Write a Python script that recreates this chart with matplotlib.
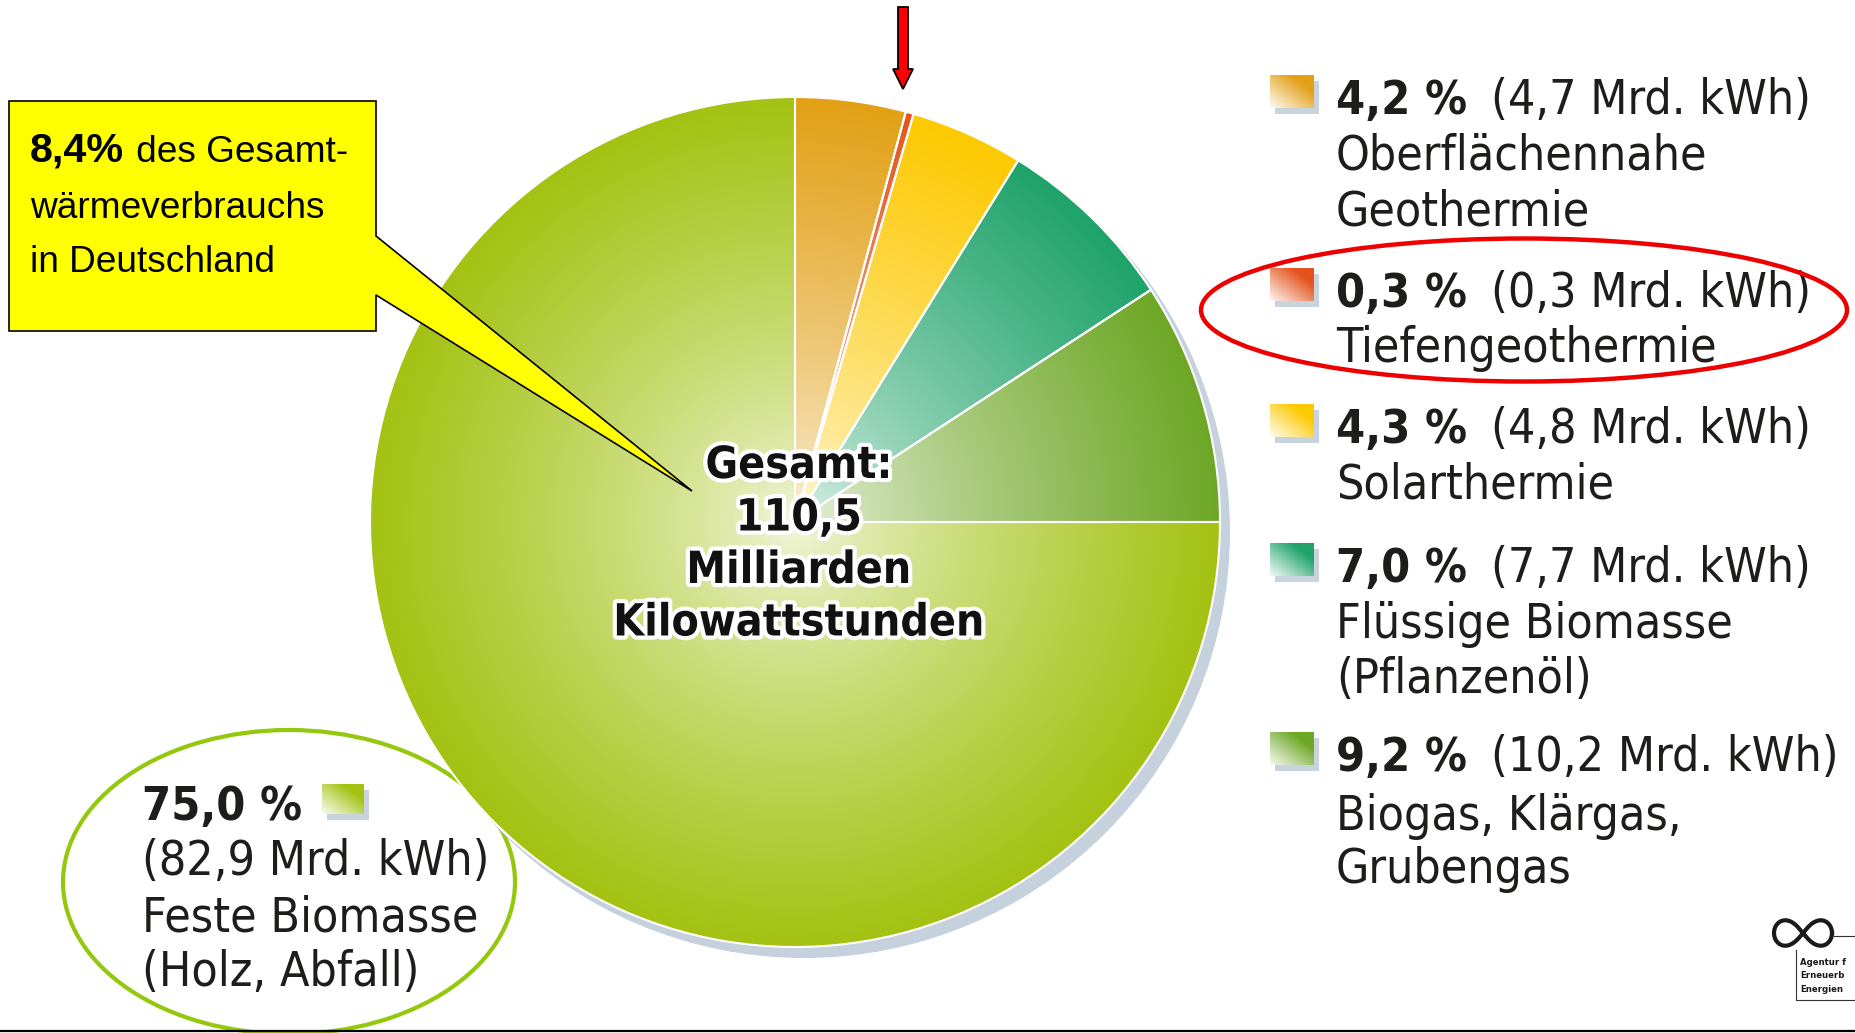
import os
import numpy as np
import matplotlib
matplotlib.use("Agg")
import matplotlib.pyplot as plt
from matplotlib.patches import Polygon, Ellipse, Rectangle, Circle
from matplotlib import font_manager as fm
import matplotlib.patheffects as pe
from matplotlib.colors import to_rgb

# ---------------- data ----------------
categories = ["Oberflächennahe Geothermie", "Tiefengeothermie", "Solarthermie",
              "Flüssige Biomasse (Pflanzenöl)", "Biogas, Klärgas, Grubengas",
              "Feste Biomasse (Holz, Abfall)"]
label_lines = [["Oberflächennahe", "Geothermie"], ["Tiefengeothermie"], ["Solarthermie"],
               ["Flüssige Biomasse", "(Pflanzenöl)"], ["Biogas, Klärgas,", "Grubengas"],
               ["Feste Biomasse", "(Holz, Abfall)"]]
shares = [4.2, 0.3, 4.3, 7.0, 9.2, 75.0]            # percent
energy = [4.7, 0.3, 4.8, 7.7, 10.2, 82.9]           # Mrd. kWh
colors = ["#e2a015", "#e4531c", "#fdc900", "#1fa36b", "#6ea726", "#a3c212"]
total_lines = ["Gesamt:", "110,5", "Milliarden", "Kilowattstunden"]
callout_bold = "8,4%"
callout_rest = [" des Gesamt-", "wärmeverbrauchs", "in Deutschland"]
logo_lines = ["Agentur f", "Erneuerb", "Energien"]


def fmt(v):
    return f"{v:.1f}".replace(".", ",")


# ---------------- fonts ----------------
def find_file(names):
    for f in fm.fontManager.ttflist:
        if os.path.basename(f.fname) in names:
            return f.fname
    return None

cond_reg = find_file(["DejaVuSansCondensed.ttf"])
cond_bold = find_file(["DejaVuSansCondensed-Bold.ttf"])
lib_reg = find_file(["LiberationSans-Regular.ttf"])
lib_bold = find_file(["LiberationSans-Bold.ttf"])


def fprop(path, size, family="DejaVu Sans", weight="normal"):
    if path:
        p = fm.FontProperties(fname=path)
    else:
        p = fm.FontProperties(family=family, weight=weight)
    p.set_size(size)
    return p


# ---------------- figure ----------------
W, H = 1856, 1033
fig = plt.figure(figsize=(W / 100, H / 100), dpi=100)
ax = fig.add_axes([0, 0, 1, 1])
renderer = fig.canvas.get_renderer()


def fit_size(text, path, target, family="DejaVu Sans", weight="normal"):
    t = fig.text(0, 0, text, fontproperties=fprop(path, 20, family, weight))
    w = t.get_window_extent(renderer).width
    t.remove()
    return 20 * target / w

leg_size = fit_size("(4,7 Mrd. kWh)", cond_reg, 320)
ctr_size = fit_size("Kilowattstunden", cond_bold, 372, weight="bold")
cal_size = fit_size("wärmeverbrauchs", lib_reg, 293, family="Liberation Sans")
calb_size = fit_size("8,4%", lib_bold, 94, family="Liberation Sans", weight="bold")

leg_reg = fprop(cond_reg, leg_size)
leg_bold = fprop(cond_bold, leg_size * 0.97, weight="bold")
ctr_bold = fprop(cond_bold, ctr_size, weight="bold")
cal_reg = fprop(lib_reg, cal_size, family="Liberation Sans")
cal_bold = fprop(lib_bold, calb_size, family="Liberation Sans", weight="bold")
logo_fp = fprop(cond_bold, 6.8, weight="bold")

txt_col = "#1d1d1b"

# ---------------- pie ----------------
cx, cy, R = 795, 522, 425
ax.add_patch(Circle((cx + 9, cy + 10), R + 1, color="#c5d1dc", lw=0, zorder=1))
wedges, _ = ax.pie(shares, startangle=270, counterclock=True, center=(cx, cy),
                   radius=R, colors=colors,
                   wedgeprops=dict(edgecolor="white", linewidth=1.5))

n = 700
xs = np.linspace(cx - R, cx + R, n)
ys = np.linspace(cy - R, cy + R, n)
X, Y = np.meshgrid(xs, ys)
rr = np.clip(np.hypot(X - cx, Y - cy) / R, 0, 1)
tt = 0.12 + 0.88 * rr ** 0.75
for w, c in zip(wedges, colors):
    rgb = np.array(to_rgb(c))
    img = 1 - tt[..., None] * (1 - rgb)
    im = ax.imshow(img, extent=(cx - R, cx + R, cy + R, cy - R), zorder=2,
                   interpolation="bilinear", aspect="auto")
    im.set_clip_path(w)
    w.set_facecolor("none")
    w.set_zorder(3)

ax.set_xlim(0, W)
ax.set_ylim(H, 0)
ax.set_aspect("auto")
ax.axis("off")

# center text
for i, s in enumerate(total_lines):
    ax.text(cx + 4, 478 + i * 52.5, s, fontproperties=ctr_bold, color="#111111",
            ha="center", va="baseline", zorder=8,
            path_effects=[pe.withStroke(linewidth=6, foreground="white")])


# ---------------- legend swatches ----------------
def swatch(x, y, w, h, color):
    ax.add_patch(Rectangle((x + 5, y + 6), w, h, color="#c8d3de", lw=0, zorder=4))
    g = np.linspace(0, 1, 64)
    GX, GY = np.meshgrid(g, g)
    t = np.clip((GX + (1 - GY)) / 1.5, 0, 1)
    t = 0.05 + 0.95 * t
    img = 1 - t[..., None] * (1 - np.array(to_rgb(color)))
    ax.imshow(img, extent=(x, x + w, y + h, y), origin="upper", zorder=5,
              aspect="auto", interpolation="bilinear")

first_base = [114, 307, 443, 582, 771]
line_gaps = [[55.5, 111], [55.5], [55.5], [55.5, 111], [58.5, 112]]
for k in range(5):
    b = first_base[k]
    swatch(1270, b - 39, 44, 33, colors[k])
    ax.text(1336, b, fmt(shares[k]) + " %", fontproperties=leg_bold, color=txt_col,
            va="baseline", ha="left", zorder=6)
    ax.text(1491, b, f"({fmt(energy[k])} Mrd. kWh)", fontproperties=leg_reg,
            color=txt_col, va="baseline", ha="left", zorder=6)
    for j, s in enumerate(label_lines[k]):
        ax.text(1336, b + line_gaps[k][j], s, fontproperties=leg_reg, color=txt_col,
                va="baseline", ha="left", zorder=6)

# bottom-left big category
k = 5
ax.text(142, 820, fmt(shares[k]) + " %", fontproperties=leg_bold, color=txt_col,
        va="baseline", ha="left", zorder=6)
swatch(322, 784, 42, 30, colors[k])
ax.text(142, 875, f"({fmt(energy[k])} Mrd. kWh)", fontproperties=leg_reg,
        color=txt_col, va="baseline", ha="left", zorder=6)
for j, s in enumerate(label_lines[k]):
    ax.text(142, 931 + j * 55, s, fontproperties=leg_reg, color=txt_col,
            va="baseline", ha="left", zorder=6)

# ---------------- annotations ----------------
ax.add_patch(Ellipse((1524, 310), 646, 143, fill=False, ec="#ee0000", lw=3.2, zorder=7))
ax.add_patch(Ellipse((289, 882), 452, 304, fill=False, ec="#93c80c", lw=3.0, zorder=0.5))

callout = [(9, 101), (376, 101), (376, 236), (692, 491), (376, 295), (376, 331), (9, 331)]
ax.add_patch(Polygon(callout, closed=True, fc="#ffff00", ec="black", lw=1.2, zorder=7))
ax.text(30, 162, callout_bold, fontproperties=cal_bold, color="black", va="baseline", zorder=8)
ax.text(126, 162, callout_rest[0], fontproperties=cal_reg, color="black", va="baseline", zorder=8)
ax.text(30, 218, callout_rest[1], fontproperties=cal_reg, color="black", va="baseline", zorder=8)
ax.text(30, 272, callout_rest[2], fontproperties=cal_reg, color="black", va="baseline", zorder=8)

arrow = [(898, 7), (908, 7), (908, 69), (913, 69), (903, 89), (893, 69), (898, 69)]
ax.add_patch(Polygon(arrow, closed=True, fc="#ff0000", ec="black", lw=1.3, zorder=7))

# bottom rule
ax.plot([0, W], [1031, 1031], color="black", lw=1.6, zorder=7, solid_capstyle="butt")

# logo (infinity loop drawn as a line, box lines, small text)
tl = np.linspace(0, 2 * np.pi, 200)
den = 1 + np.sin(tl) ** 2
ax.plot(1803 + 29 * np.cos(tl) / den, 933 + 36 * np.sin(tl) * np.cos(tl) / den,
        color="#1a1a1a", lw=3.0, zorder=7)
ax.plot([1834, W], [936, 936], color="#333333", lw=0.8, zorder=7)
ax.plot([1796, 1796, W], [950, 1000, 1000], color="#333333", lw=0.8, zorder=7)
for i, s in enumerate(logo_lines):
    ax.text(1800, 965 + i * 13.5, s, fontproperties=logo_fp, color="#1a1a1a",
            va="baseline", ha="left", zorder=7)

fig.savefig("out.png", dpi=100)
